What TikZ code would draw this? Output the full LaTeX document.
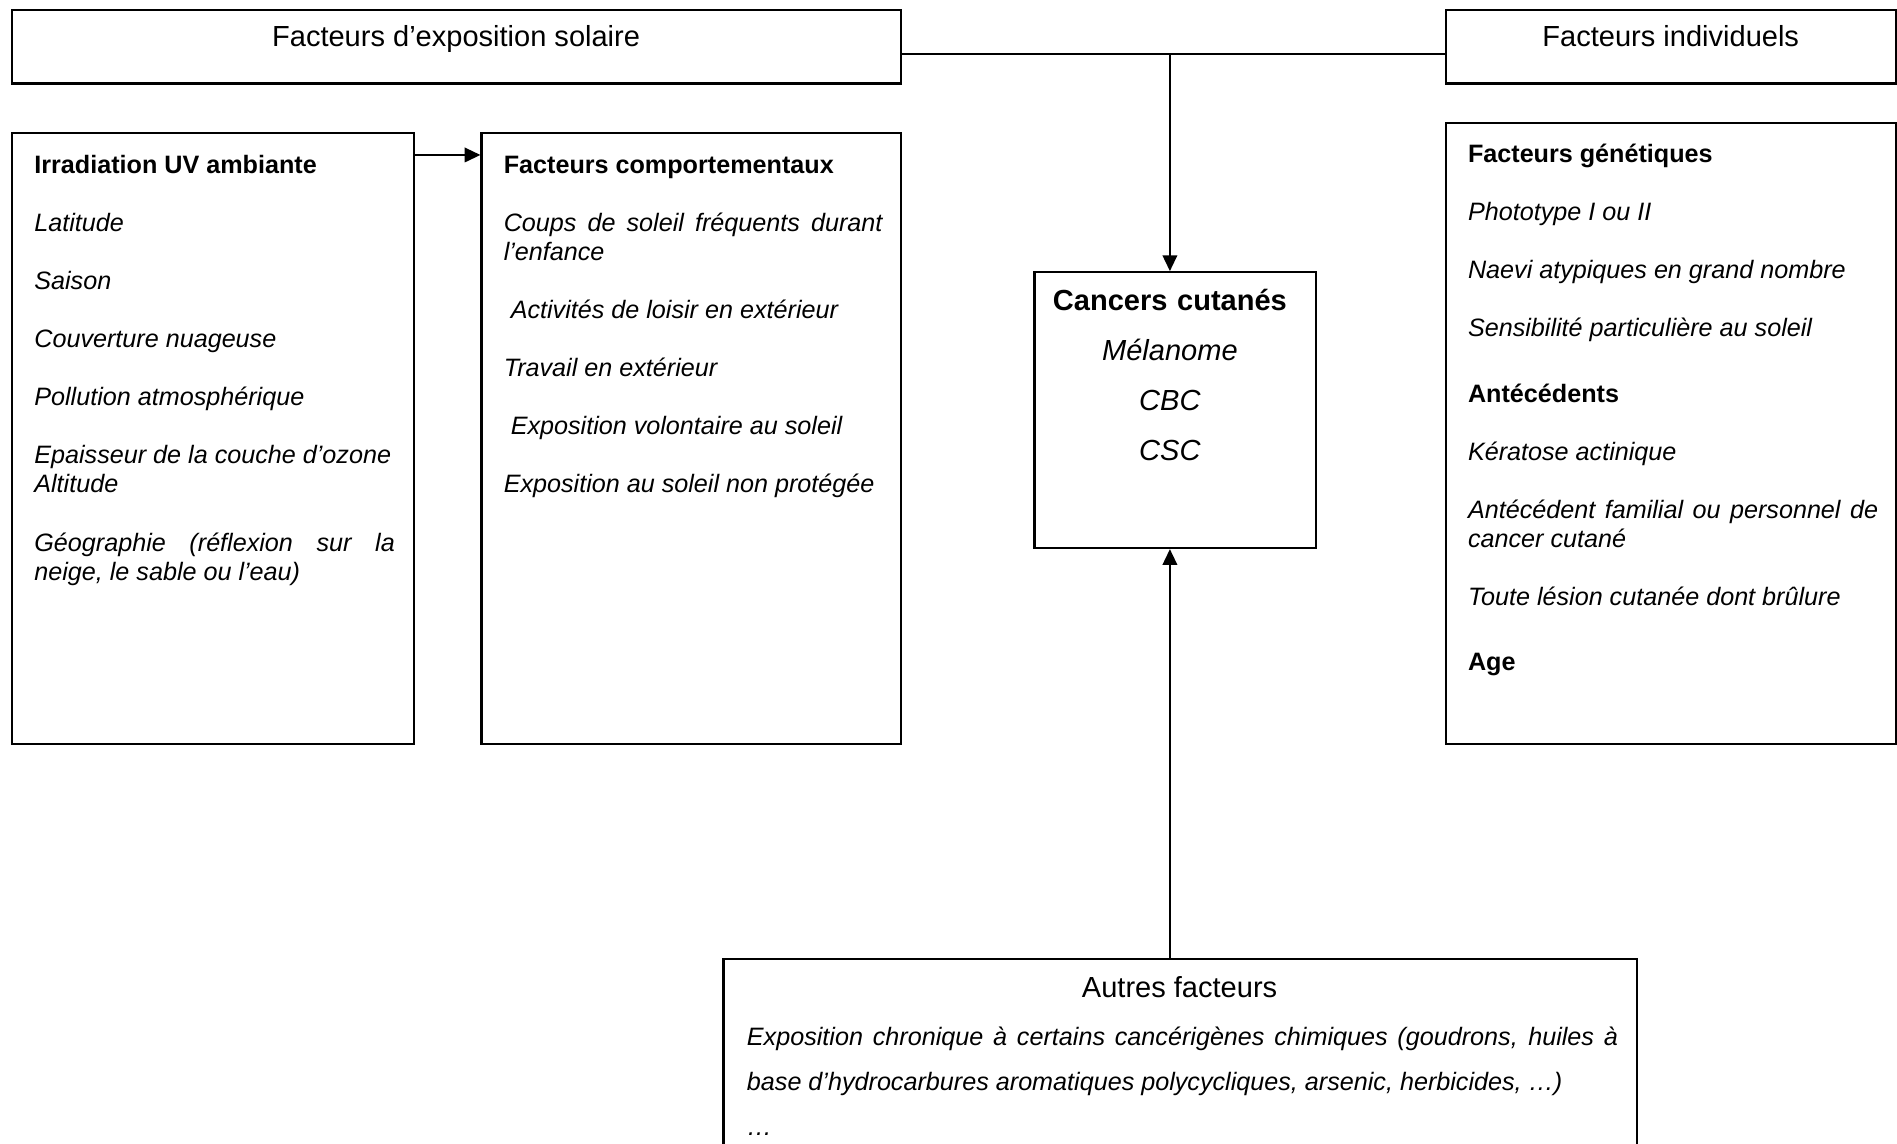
\documentclass[tikz,border=0pt]{standalone}
\usepackage{fontspec}
\setmainfont{Liberation Sans}
\usetikzlibrary{arrows.meta,fit}

\tikzset{
  panel/.style={draw, line width=0.9pt, inner sep=0pt},
  listtext/.style={anchor=base west, inner sep=0pt, align=justify,
    font=\fontsize{10.4}{12}\selectfont\itshape,
    execute at begin node=\setlength{\parskip}{12pt}},
  headtext/.style={anchor=base, inner sep=0pt, font=\fontsize{12}{14}\selectfont},
  link/.style={line width=0.8pt},
  arr/.style={link, -{Triangle[length=6.5pt,width=6pt]}},
}
\newcommand{\hd}[1]{{\upshape\bfseries #1}}

\begin{document}
\begin{tikzpicture}[x=0.5pt, y=-0.5pt]
  % Frame
  \useasboundingbox (0,0) rectangle (1568,945);

  % Top Boxes
  \node[panel, fit={(10,8) (745,69)}] (solar) {};
  \node[headtext] (solarT) at (377,38.5) {Facteurs d’exposition solaire};
  \node[panel, fit={(1195,8) (1567,69)}] (indiv) {};
  \node[headtext] (indivT) at (1381,38.5) {Facteurs individuels};

  % UV Box
  \node[panel, fit={(10,110) (342,615)}] (uv) {};
  \node[listtext, text width=149pt] (uvT) at (28,143.5)
    {\hd{Irradiation UV ambiante}\par Latitude\par Saison\par
     Couverture nuageuse\par Pollution atmosphérique\par
     Epaisseur de la couche d’ozone\newline Altitude\par
     Géographie (réflexion sur la neige, le sable ou l’eau)};

  % Behaviour Box
  \node[panel, fit={(398,110) (745,615)}] (behav) {};
  \node[listtext, text width=156.5pt] (behavT) at (416,143.5)
    {\hd{Facteurs comportementaux}\par
     Coups de soleil fréquents durant l’enfance\par
     \ Activités de loisir en extérieur\par Travail en extérieur\par
     \ Exposition volontaire au soleil\par Exposition au soleil non protégée};

  % Individual Box
  \node[panel, fit={(1195,102) (1567,615)}] (gene) {};
  \node[listtext, text width=169.5pt] (geneT) at (1213,134.5)
    {\hd{Facteurs génétiques}\par Phototype I ou II\par
     Naevi atypiques en grand nombre\par Sensibilité particulière au soleil\par
     \vspace{3pt}\hd{Antécédents}\par Kératose actinique\par
     Antécédent familial ou personnel de cancer cutané\par
     Toute lésion cutanée dont brûlure\par
     \vspace{3pt}\hd{Age}};

  % Cancer Box
  \node[panel, fit={(855,225) (1088,453)}] (cancer) {};
  \node[anchor=base, inner sep=0pt, text width=110pt, align=center,
    font=\fontsize{12}{20.75}\selectfont] (cancerT) at (967,256.5)
    {\textbf{Cancers cutanés}\\ \textit{Mélanome}\\ \textit{CBC}\\ \textit{CSC}};

  % Other Box
  \node[panel, fit={(598,793) (1353,960)}] (other) {};
  \node[headtext] (otherT) at (975,824.5) {Autres facteurs};
  \node[listtext, text width=360pt, font=\fontsize{10.4}{18.5}\selectfont\itshape,
    execute at begin node=\setlength{\parskip}{0pt}] (otherL) at (617,864.5)
    {Exposition chronique à certains cancérigènes chimiques (goudrons, huiles à
     base d’hydrocarbures aromatiques polycycliques, arsenic, herbicides, …)\par …};

  % Links
  \coordinate (join) at (967,45);
  \draw[link] (solar.east |- join) -- (indiv.west |- join);
  \draw[arr] (join) -- (join |- cancer.north);
  \draw[arr] (join |- other.north) -- (join |- cancer.south);
  \draw[arr] ([yshift=-9.5pt]uv.north east) -- ([yshift=-9.5pt]behav.north west);
\end{tikzpicture}
\end{document}
